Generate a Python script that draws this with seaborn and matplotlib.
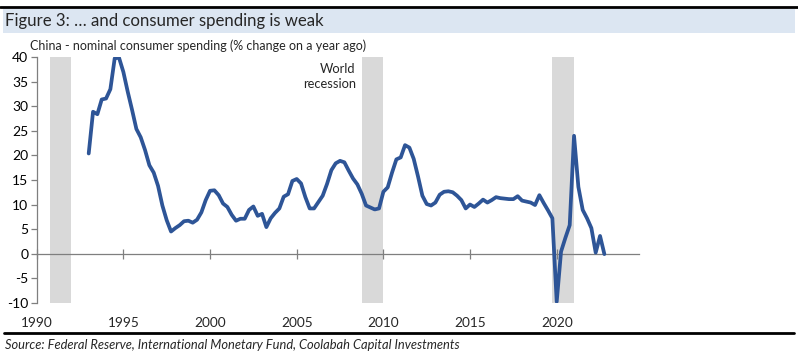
import matplotlib
matplotlib.use("Agg")
import matplotlib.pyplot as plt
from matplotlib.patches import Rectangle
from matplotlib.lines import Line2D
import numpy as np
import pandas as pd
import seaborn as sns

# quarterly readings, 1993 Q1 .. 2022 Q4
start_year = 1993
spending = [
    20.4, 28.9, 28.4, 31.4,   # 1993
    31.6, 33.5, 39.8, 39.9,   # 1994
    37.0, 33.0, 29.3, 25.4,   # 1995
    23.7, 21.1, 18.0, 16.5,   # 1996
    13.8, 9.8, 6.8, 4.5,      # 1997
    5.2, 5.8, 6.6, 6.7,       # 1998
    6.3, 6.9, 8.4, 10.9,      # 1999
    12.8, 12.9, 11.9, 10.2,   # 2000
    9.5, 7.9, 6.7, 7.1,       # 2001
    7.1, 8.9, 9.6, 7.7,       # 2002
    8.1, 5.4, 7.2, 8.3,       # 2003
    9.2, 11.6, 12.1, 14.8,    # 2004
    15.2, 14.3, 11.5, 9.2,    # 2005
    9.2, 10.5, 11.8, 14.2,    # 2006
    17.0, 18.4, 18.9, 18.6,   # 2007
    16.9, 15.3, 14.1, 12.2,   # 2008
    9.8, 9.4, 9.0, 9.2,       # 2009
    12.6, 13.5, 16.5, 19.2,   # 2010
    19.6, 22.1, 21.6, 19.3,   # 2011
    15.7, 11.8, 10.1, 9.8,    # 2012
    10.4, 12.0, 12.6, 12.7,   # 2013
    12.5, 11.8, 10.9, 9.2,    # 2014
    10.0, 9.5, 10.2, 11.0,    # 2015
    10.4, 10.9, 11.5, 11.3,   # 2016
    11.2, 11.1, 11.1, 11.7,   # 2017
    10.8, 10.6, 10.4, 9.9,    # 2018
    11.9, 10.3, 8.8, 7.2,     # 2019
    -9.8, 0.4, 3.2, 5.8,      # 2020
    24.0, 13.6, 8.9, 7.2,     # 2021
    5.2, 0.2, 3.6, -0.1,      # 2022
]
years = [start_year + i / 4 for i in range(len(spending))]

# recession shading (start, end) in decimal years
recessions = [(1990.75, 1992.0), (2008.75, 2010.0), (2019.75, 2021.0)]

x_ticks = [1990, 1995, 2000, 2005, 2010, 2015, 2020]
y_ticks = [-10, -5, 0, 5, 10, 15, 20, 25, 30, 35, 40]

title = "Figure 3: \u2026 and consumer spending is weak"
subtitle = "China - nominal consumer spending (% change on a year ago)"
source = "Source: Federal Reserve, International Monetary Fund, Coolabah Capital Investments"

sns.set_style("white")
plt.rcParams["font.family"] = ["Lato", "DejaVu Sans"]
plt.rcParams["axes.unicode_minus"] = False

LINE = "#2E5597"
GREY = "#D9D9D9"
AXIS = "#7F7F7F"

df = pd.DataFrame({"year": years, "value": spending})

fig = plt.figure(figsize=(7.98, 3.58), dpi=100)
ax = fig.add_axes([0.046, 0.1545, 0.7548, 0.6855])

for a, b in recessions:
    ax.axvspan(a, b, color=GREY, lw=0, zorder=0)

sns.lineplot(data=df, x="year", y="value", color=LINE, lw=2.7, ax=ax, zorder=3)

ax.set_xlim(1990, 2024.75)
ax.set_ylim(-10, 40)
ax.set_xlabel("")
ax.set_ylabel("")

for s in ["top", "right"]:
    ax.spines[s].set_visible(False)
ax.spines["left"].set_color(AXIS)
ax.spines["left"].set_linewidth(0.9)
ax.spines["bottom"].set_position(("data", 0))
ax.spines["bottom"].set_color(AXIS)
ax.spines["bottom"].set_linewidth(0.9)

ax.set_yticks(y_ticks)
ax.tick_params(axis="y", direction="out", length=4, width=0.9, color=AXIS,
               labelsize=10, labelcolor="black", pad=2, left=True)
ax.set_xticks(x_ticks)
ax.tick_params(axis="x", direction="inout", length=7, width=0.9, color=AXIS,
               labelbottom=False, bottom=True)

sec = ax.secondary_xaxis(0)
sec.set_xticks(x_ticks)
sec.set_xticklabels([str(t) for t in x_ticks])
sec.tick_params(axis="x", length=0, labelsize=9.8, pad=10)
sec.spines["bottom"].set_visible(False)

ax.text(2008.4, 36.1, "World\nrecession", ha="right", va="center",
        fontsize=9.3, linespacing=1.35)

# header / footer decoration
fig.add_artist(Rectangle((0.004, 0.908), 0.992, 0.068, transform=fig.transFigure,
                         facecolor="#DCE6F2", edgecolor="none"))
fig.add_artist(Line2D([0.0, 1.0], [0.98, 0.98], transform=fig.transFigure,
                      color="black", lw=2))
fig.add_artist(Line2D([0.005, 0.995], [0.071, 0.071], transform=fig.transFigure,
                      color="black", lw=2))
fig.text(0.006, 0.941, title, fontsize=12.1, va="center", ha="left")
fig.text(0.038, 0.873, subtitle, fontsize=9.0, va="center", ha="left")
fig.text(0.006, 0.036, source, fontsize=9.3, va="center", ha="left", style="italic")

fig.savefig("out.png", dpi=100)
